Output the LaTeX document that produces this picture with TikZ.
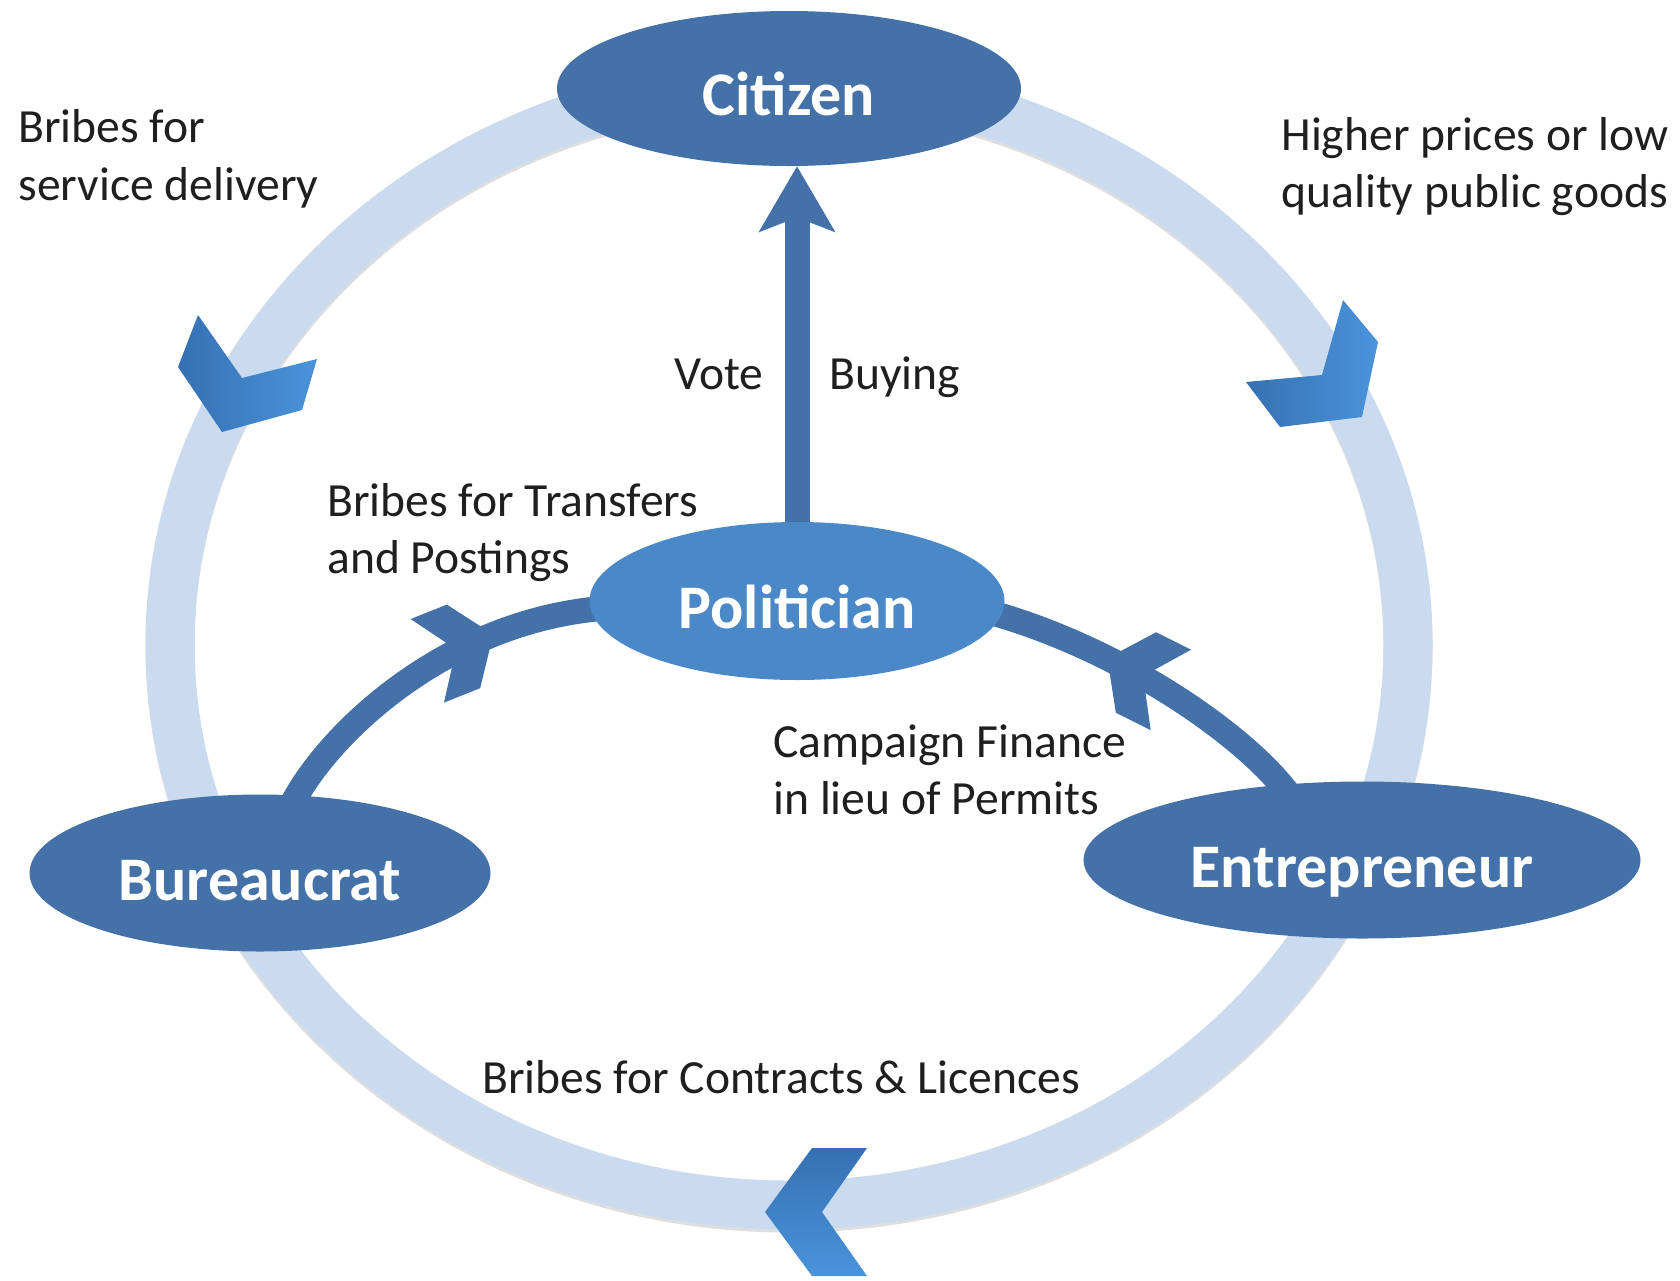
\documentclass[tikz,border=0pt]{standalone}
\usepackage{fontspec}
\setmainfont{Carlito}
\usetikzlibrary{arrows.meta,shapes.geometric,decorations.markings}
\definecolor{ringcol}{HTML}{CADBF0}
\definecolor{darkblue}{HTML}{4472A8}
\definecolor{polblue}{HTML}{4A88C8}
\definecolor{chevdark}{HTML}{3670B3}
\definecolor{chevlight}{HTML}{4A94DA}
\pgfdeclarelayer{ringl}
\pgfdeclarelayer{arrowl}
\pgfsetlayers{ringl,arrowl,main}
\tikzset{
  actor/.style={ellipse, inner sep=0pt, fill=darkblue, draw=none},
  actortext/.style={text=white, font=\fontsize{31pt}{37pt}\selectfont\bfseries, inner sep=0pt, anchor=base},
  lbl/.style={font=\fontsize{23.8pt}{28.5pt}\selectfont, inner sep=0pt, anchor=base west, text=black!88},
  flow/.style={draw=darkblue, line width=12.5pt},
  chevmark/.style={decoration={markings, mark=at position #1 with {\fill[darkblue] (0,0) -- (-32,45) -- (-71,45) -- (-40,0) -- (-71,-45) -- (-32,-45) -- cycle;}}, postaction={decorate}},
}
\begin{document}
\begin{tikzpicture}[x=0.5pt,y=-0.5pt]
\useasboundingbox (0,0) rectangle (1680,1280);

% actors
\node[actor, minimum width=232pt, minimum height=77.5pt] (cit) at (789,88.5) {};
\node[actor, fill=polblue, minimum width=207.5pt, minimum height=79pt] (pol) at (797,601) {};
\node[actor, minimum width=230.5pt, minimum height=78.5pt] (bur) at (260,873) {};
\node[actor, minimum width=278.5pt, minimum height=78.5pt] (ent) at (1362,860) {};

\node[actortext] (citt) at ([yshift=-13.5pt]cit.center) {Citizen};
\node[actortext] (polt) at ([yshift=-13.5pt]pol.center) {Politician};
\node[actortext] (burt) at ([yshift=-13.5pt]bur.center) {Bureaucrat};
\node[actortext] (entt) at ([yshift=-13.5pt]ent.center) {Entrepreneur};

% ring and its chevrons
\begin{pgfonlayer}{ringl}
  \fill[white] (0,0) rectangle (1680,1280);
  \draw[black!13, line width=24.5pt, yshift=-1.5pt] (789,644) ellipse [x radius=309.5pt, y radius=280.5pt];
  \draw[ringcol, line width=24.5pt] (789,644) ellipse [x radius=309.5pt, y radius=280.5pt];
  \shade[left color=chevdark, right color=chevlight] (198,315) -- (178,367) -- (222,432) -- (302,410) -- (317,359) -- (242,378) -- cycle;
  \shade[left color=chevdark, right color=chevlight] (1362,417) -- (1378,342) -- (1343,300) -- (1322,375) -- (1246,382) -- (1280,427) -- cycle;
  \shade[top color=chevdark, bottom color=chevlight] (765,1212) -- (812,1148) -- (867,1148) -- (822,1212) -- (867,1276) -- (812,1276) -- cycle;
\end{pgfonlayer}

% inner flows
\begin{pgfonlayer}{arrowl}
  \draw[flow, -{Stealth[length=33pt, width=38.5pt, inset=7.5pt, line width=0pt]}] (pol.north) -- (pol.north |- cit.south);
  \draw[flow, chevmark=0.70] ([yshift=-5pt]bur.68) .. controls (330,730) and (450,620) .. ([xshift=7.5pt]pol.182);
  \draw[flow, chevmark=0.64] ([yshift=-5pt]ent.134) .. controls (1245,735) and (1120,648) .. ([xshift=-7.5pt]pol.-3);
\end{pgfonlayer}

% labels
\node[lbl] (l1a) at (18,142) {Bribes for};
\node[lbl] (l1b) at (18,200) {service delivery};
\node[lbl] (l2a) at (1281,150) {Higher prices or low};
\node[lbl] (l2b) at (1281,207) {quality public goods};
\node[lbl] (l3a) at (674,389) {Vote};
\node[lbl] (l3b) at (829,389) {Buying};
\node[lbl] (l4a) at (327,516) {Bribes for Transfers};
\node[lbl] (l4b) at (327,573) {and Postings};
\node[lbl] (l5a) at (773,757) {Campaign Finance};
\node[lbl] (l5b) at (773,814) {in lieu of Permits};
\node[lbl] (l6) at (482,1093) {Bribes for Contracts \& Licences};
\end{tikzpicture}
\end{document}
